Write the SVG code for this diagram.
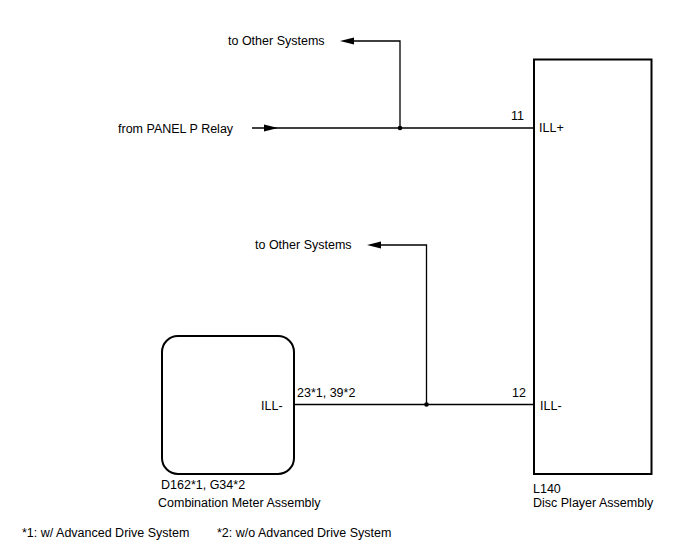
<svg xmlns="http://www.w3.org/2000/svg" width="688" height="560" viewBox="0 0 688 560">
<style>
text{font-family:"Liberation Sans",Arial,sans-serif;font-size:12.5px;fill:#000}
.w{fill:none;stroke:#000;stroke-width:1.3}
.b{fill:#fff;stroke:#000;stroke-width:2}
.a{fill:#000;stroke:none}
</style>
<rect width="688" height="560" fill="#fff"/>
<g id="connectors">
<path class="w" d="M252 128H534"/>
<path class="a" d="M278 128L264 124.5V131.5Z"/>
<path class="w" d="M400 128V41H354"/>
<path class="a" d="M340 41L354 37.5V44.5Z"/>
<path class="w" d="M294 404.5H534"/>
<path class="w" d="M426.5 404.5V245H381"/>
<path class="a" d="M367 245L381 241.5V248.5Z"/>
<circle cx="400" cy="128" r="2.3"/>
<circle cx="426.5" cy="404.5" r="2.3"/>
<text x="228" y="45">to Other Systems</text>
<text x="255" y="249">to Other Systems</text>
<text x="118" y="133">from PANEL P Relay</text>
<text x="511" y="120">11</text>
<text x="512" y="397">12</text>
<text x="297" y="397">23*1, 39*2</text>
</g>
<g id="disc-player">
<rect class="b" x="534" y="59.5" width="117.5" height="414.5"/>
<text x="539" y="132">ILL+</text>
<text x="540" y="410">ILL-</text>
<text x="533" y="493">L140</text>
<text x="533" y="507">Disc Player Assembly</text>
</g>
<g id="combination-meter">
<rect class="b" x="162" y="336" width="132" height="138" rx="16" ry="16"/>
<text x="261" y="410">ILL-</text>
<text x="161" y="489">D162*1, G34*2</text>
<text x="158" y="507">Combination Meter Assembly</text>
</g>
<g id="notes">
<text x="22" y="537">*1: w/ Advanced Drive System</text>
<text x="217" y="537">*2: w/o Advanced Drive System</text>
</g>
</svg>
